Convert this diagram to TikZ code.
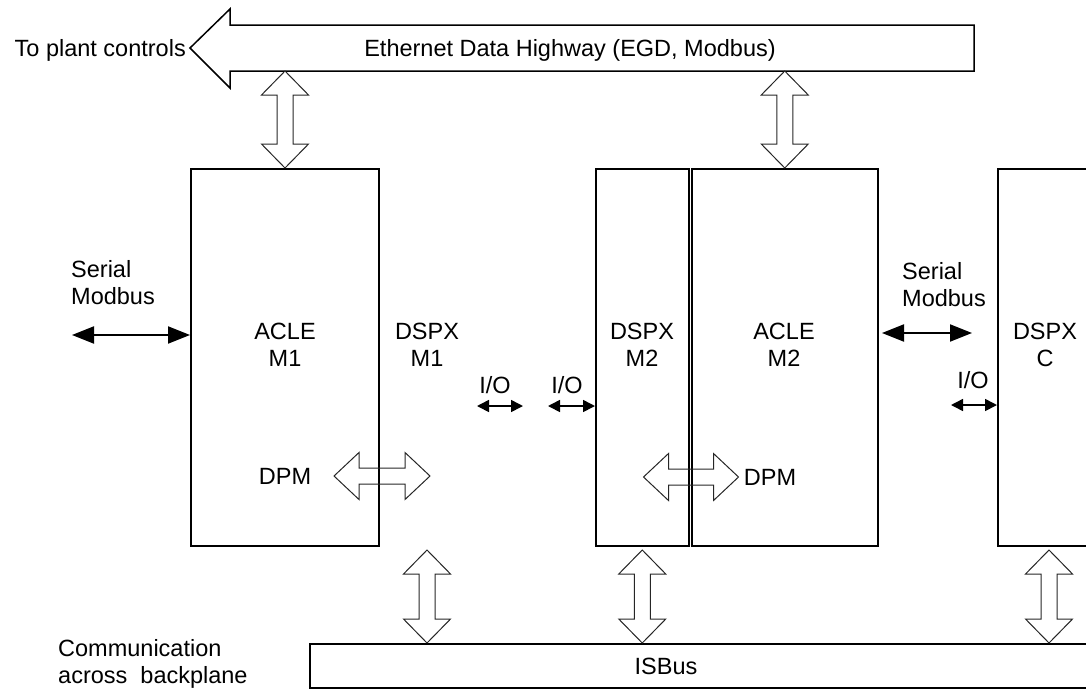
\documentclass[tikz,border=0pt]{standalone}
\usepackage{fontspec}
\setmainfont{Liberation Sans}
\usetikzlibrary{arrows.meta,calc}

\tikzset{
  unit/.style={draw,line width=2pt,inner sep=0pt,anchor=north west},
  lbl/.style={align=center,inner sep=0pt},
  busarrow/.style={draw=black!85,line width=1pt,line join=miter},
  serarrow/.style={line width=2pt,{Triangle[length=22pt,width=17pt]}-{Triangle[length=22pt,width=17pt]}},
  ioarrow/.style={line width=1.6pt,{Triangle[length=12pt,width=12pt]}-{Triangle[length=12pt,width=12pt]}},
}

% hollow double arrows: top point, bottom point
\newcommand{\vbus}[2]{%
  \draw[busarrow] let \p1=(#1), \p2=(#2) in
    (\x1,\y1) -- (\x1+23.5pt,\y1-24pt) -- (\x1+8pt,\y1-24pt) -- (\x1+8pt,\y2+24pt)
    -- (\x1+23.5pt,\y2+24pt) -- (\x1,\y2) -- (\x1-23.5pt,\y2+24pt) -- (\x1-8pt,\y2+24pt)
    -- (\x1-8pt,\y1-24pt) -- (\x1-23.5pt,\y1-24pt) -- cycle;}
% left point, right point
\newcommand{\hbus}[2]{%
  \draw[busarrow] let \p1=(#1), \p2=(#2) in
    (\x1,\y1) -- (\x1+25pt,\y1+23.5pt) -- (\x1+25pt,\y1+8pt) -- (\x2-25pt,\y1+8pt)
    -- (\x2-25pt,\y1+23.5pt) -- (\x2,\y1) -- (\x2-25pt,\y1-23.5pt) -- (\x2-25pt,\y1-8pt)
    -- (\x1+25pt,\y1-8pt) -- (\x1+25pt,\y1-23.5pt) -- cycle;}

\begin{document}
\begin{tikzpicture}[x=1pt,y=-1pt,font=\fontsize{23.5}{27}\selectfont]
\useasboundingbox (0,0) rectangle (1086,689);

% ethernet highway
\coordinate (ethtip) at (190,48);
\coordinate (ethbot) at (0,71);
\draw[line width=1.5pt,line join=miter] (ethtip) -- (230,9) -- (230,25) -- (974,25)
  -- (974,71) -- (230,71) -- (230,88) -- cycle;
\node[anchor=base east,inner sep=2pt] (plant) at (188,56) {To plant controls};
\node[anchor=base,inner sep=0pt] (eth) at (570,56) {Ethernet Data Highway (EGD, Modbus)};

% modules
\node[unit,minimum width=188pt,minimum height=377pt] (aclem1) at (190,168) {};
\node[unit,minimum width=92.5pt,minimum height=377pt] (dspxm2) at (595,168) {};
\node[unit,minimum width=186.5pt,minimum height=377pt] (aclem2) at (690.5,168) {};
\node[unit,minimum width=102pt,minimum height=377pt] (dspxc) at (997,168) {};
\node[unit,minimum width=800pt,minimum height=44pt] (isbus) at (309,643) {};

\node[lbl] (acle1) at (285,345) {ACLE\\M1};
\node[lbl] (dspx1) at (427,345) {DSPX\\M1};
\node[lbl] (dspx2) at (642,345) {DSPX\\M2};
\node[lbl] (acle2) at (784,345) {ACLE\\M2};
\node[lbl] (dspx3) at (1045,345) {DSPX\\C};
\node[lbl] (dpm1) at (285,476) {DPM};
\node[lbl] (dpm2) at (770,477) {DPM};
\node[lbl] (isbusl) at (666,666) {ISBus};
\node[lbl,align=left,anchor=north west] (serl) at (71,260) {Serial\\Modbus};
\node[lbl,align=left,anchor=north west] (serr) at (902,262) {Serial\\Modbus};
\node[lbl] (io1) at (495,385) {I/O};
\node[lbl] (io2) at (567,385) {I/O};
\node[lbl] (io3) at (973,380) {I/O};
\node[lbl,align=left,anchor=north west] (comm) at (58,639) {Communication\\across\ \ backplane};

% serial and I/O links
\coordinate (sl) at (72,335);
\draw[serarrow] (sl) -- (sl -| aclem1.west);
\coordinate (sr) at (972,333);
\draw[serarrow] ($(sr -| aclem2.east)+(3,0)$) -- (sr);
\coordinate (io1a) at (477,406);
\coordinate (io1b) at (523,406);
\draw[ioarrow] (io1a) -- (io1b);
\coordinate (io2a) at (548,406);
\draw[ioarrow] (io2a) -- (io2a -| dspxm2.west);
\coordinate (io3a) at (951,405);
\draw[ioarrow] (io3a) -- (io3a -| dspxc.west);

% block arrows
\vbus{aclem1.north |- ethbot}{aclem1.north}
\vbus{aclem2.north |- ethbot}{aclem2.north}
\vbus{$(dspx1 |- aclem1.south)+(0,3)$}{dspx1 |- isbus.north}
\vbus{$(dspxm2.south)+(0,3)$}{dspxm2.south |- isbus.north}
\vbus{$(dspxc.south)+(0,3)$}{dspxc.south |- isbus.north}
\hbus{$(aclem1.east |- dpm1)+(-46,0)$}{$(aclem1.east |- dpm1)+(50,0)$}
\hbus{$(aclem2.west |- dpm2)+(-47,0)$}{$(aclem2.west |- dpm2)+(48,0)$}
\end{tikzpicture}
\end{document}
